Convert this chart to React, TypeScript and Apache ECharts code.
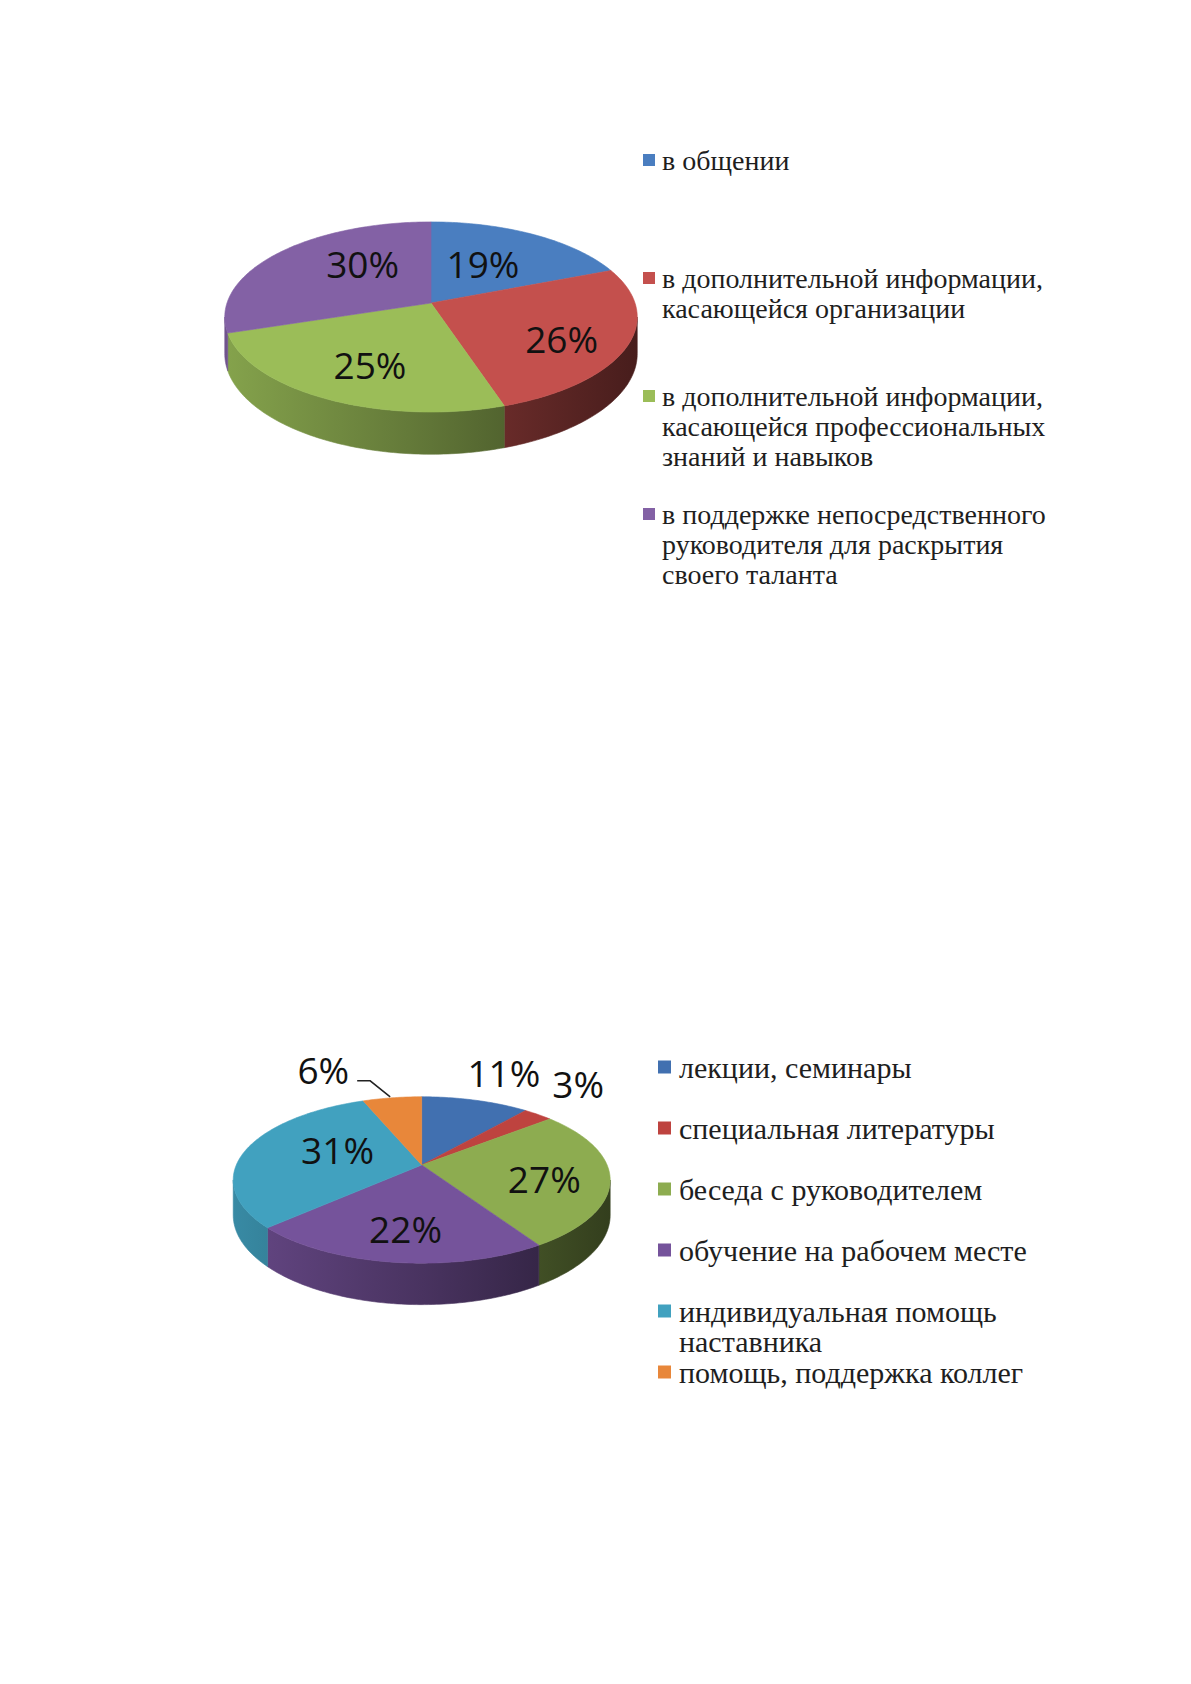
import React, { useEffect, useRef } from "react";
import * as echarts from "echarts";

// ---------- data ----------
const CHART1_CATEGORIES = [
  "в общении",
  "в дополнительной информации,\nкасающейся организации",
  "в дополнительной информации,\nкасающейся профессиональных\nзнаний и навыков",
  "в поддержке непосредственного\nруководителя для раскрытия\nсвоего таланта",
];
const CHART1_VALUES = [19, 26, 25, 30];
const CHART1_COLORS = ["#4A7EC0", "#C4504D", "#9BBD58", "#8361A5"];

const CHART2_CATEGORIES = [
  "лекции, семинары",
  "специальная литературы",
  "беседа с руководителем",
  "обучение на рабочем месте",
  "индивидуальная помощь\nнаставника",
  "помощь, поддержка коллег",
];
const CHART2_VALUES = [11, 3, 27, 22, 31, 6];
const CHART2_COLORS = ["#4170B0", "#BE433F", "#8DAC50", "#75539B", "#41A1BF", "#E8873A"];

// ---------- layout (style, not data) ----------
type Geo = { cx: number; cy: number; s: number; k: number; p: number; h: number };
const GEO1: Geo = { cx: 431, cy: 303, s: 204, k: 93, p: 0.147, h: 36 };
const GEO2: Geo = { cx: 421.7, cy: 1165, s: 185.4, k: 80.5, p: 0.18, h: 34 };

const LEGEND1 = { markerX: 643, size: 12, textX: 662, firstY: 160, gap: 118, font: 28 };
const LEGEND2 = { markerX: 658, size: 13, textX: 679, firstY: 1067, gap: 61, font: 30 };

const LABEL_FONT = 37;
const LABEL_FAMILY = "'Open Sans', sans-serif";

function shade(hex: string, f: number) {
  const n = parseInt(hex.slice(1), 16);
  const r = Math.round(((n >> 16) & 255) * f);
  const g = Math.round(((n >> 8) & 255) * f);
  const b = Math.round((n & 255) * f);
  return `rgb(${r},${g},${b})`;
}

function measure(text: string) {
  const c = document.createElement("canvas").getContext("2d")!;
  c.font = `${LABEL_FONT}px ${LABEL_FAMILY}`;
  return c.measureText(text).width;
}

function makeProj(geo: Geo) {
  return (phiDeg: number, r: number, down: number): [number, number] => {
    const t = (phiDeg * Math.PI) / 180;
    const X = r * Math.cos(t);
    const Z = r * Math.sin(t);
    const w = 1 - geo.p * Z;
    return [geo.cx + (geo.s * X) / w, geo.cy + (geo.k * Z + geo.h * down) / w];
  };
}

function buildPieSeries(values: number[], colors: string[], geo: Geo) {
  const total = values.reduce((a, b) => a + b, 0);
  const starts: number[] = [];
  let acc = 0;
  values.forEach((v) => {
    starts.push(acc);
    acc += v;
  });
  const proj = makeProj(geo);

  // label layout
  type Lab = { text: string; x: number; y: number; align: string; leader?: number[][] };
  const labels: Lab[] = [];
  let prevRight = -Infinity;
  values.forEach((v, i) => {
    const mid = -90 + (360 * (starts[i] + v / 2)) / total;
    const t = (mid * Math.PI) / 180;
    const X = Math.cos(t);
    const Z = Math.sin(t);
    const text = `${v}%`;
    if (v >= 12) {
      const r = 0.5 + 0.12 * Z + 0.14 * Math.max(X, 0);
      const [x, y] = proj(mid, r, 0);
      const dy = 8 * Z - 25 * Math.max(-X, 0) * Math.max(-Z, 0) + 4 * Math.max(X, 0);
      labels.push({ text, x, y: y + dy, align: "center" });
    } else {
      const [rx, ry] = proj(mid, 1, 0);
      if (X >= 0) {
        const wdt = measure(text);
        let x = rx - 8;
        let y = ry - 28;
        if (x < prevRight + 12) {
          x = prevRight + 12;
          y = ry - 31;
        }
        prevRight = x + wdt;
        labels.push({ text, x, y, align: "left" });
      } else {
        const y = ry - 28;
        labels.push({
          text,
          x: rx - 43,
          y,
          align: "right",
          leader: [
            [rx - 35, y + 11],
            [rx - 22, y + 11],
            [rx - 2, ry - 1],
          ],
        });
      }
    }
  });

  const visLo = (Math.asin(geo.p) * 180) / Math.PI;
  const visHi = 180 - visLo;
  const left = geo.cx - geo.s * 1.02;
  const right = geo.cx + geo.s * 1.02;

  return {
    type: "custom",
    coordinateSystem: "none",
    silent: true,
    data: values.map((v, i) => [v, i]),
    renderItem: (params: any, api: any) => {
      const i = params.dataIndex;
      const v = api.value(0);
      const a0 = -90 + (360 * starts[i]) / total;
      const a1 = a0 + (360 * v) / total;
      const color = colors[i];
      const children: any[] = [];

      // top face
      const top: number[][] = [proj(0, 0, 0)];
      const steps = Math.max(2, Math.ceil(a1 - a0));
      for (let s = 0; s <= steps; s++) top.push(proj(a0 + ((a1 - a0) * s) / steps, 1, 0));
      children.push({
        type: "polygon",
        z2: 2,
        shape: { points: top },
        style: { fill: color, stroke: color, lineWidth: 0.6 },
      });

      // visible side wall
      const lo = Math.max(a0, visLo);
      const hi = Math.min(a1, visHi);
      if (hi > lo) {
        const pts: number[][] = [];
        const n = Math.max(2, Math.ceil(hi - lo));
        for (let s = 0; s <= n; s++) pts.push(proj(lo + ((hi - lo) * s) / n, 1, 0));
        for (let s = n; s >= 0; s--) pts.push(proj(lo + ((hi - lo) * s) / n, 1, 1));
        const grad = new echarts.graphic.LinearGradient(
          left,
          0,
          right,
          0,
          [
            { offset: 0, color: shade(color, 0.86) },
            { offset: 0.5, color: shade(color, 0.62) },
            { offset: 1, color: shade(color, 0.36) },
          ],
          true
        );
        children.push({
          type: "polygon",
          z2: 1,
          shape: { points: pts },
          style: { fill: grad, stroke: grad, lineWidth: 0.6 },
        });
      }

      // label
      const lab = labels[i];
      children.push({
        type: "text",
        z2: 5,
        x: lab.x,
        y: lab.y,
        style: {
          text: lab.text,
          fill: "#111",
          fontSize: LABEL_FONT,
          fontFamily: LABEL_FAMILY,
          align: lab.align,
          verticalAlign: "middle",
        },
      });
      if (lab.leader) {
        children.push({
          type: "polyline",
          z2: 5,
          shape: { points: lab.leader },
          style: { stroke: "#222", lineWidth: 1.5, fill: null },
        });
      }
      return { type: "group", children };
    },
  };
}

function buildLegend(names: string[], colors: string[], cfg: typeof LEGEND1) {
  const els: any[] = [];
  names.forEach((name, j) => {
    const y = cfg.firstY + j * cfg.gap;
    els.push({
      type: "rect",
      shape: { x: cfg.markerX, y: y - cfg.size / 2, width: cfg.size, height: cfg.size },
      style: { fill: colors[j] },
    });
    els.push({
      type: "text",
      x: cfg.textX,
      y: y - 15,
      style: {
        text: name,
        fill: "#1e1e1e",
        fontSize: cfg.font,
        fontFamily: "'Liberation Serif', 'Times New Roman', serif",
        lineHeight: 30,
        verticalAlign: "top",
        align: "left",
      },
    });
  });
  return els;
}

export default function App() {
  const ref = useRef<HTMLDivElement>(null);
  useEffect(() => {
    if (!ref.current) return;
    const chart = echarts.init(ref.current, undefined, { renderer: "svg" });
    chart.setOption({
      animation: false,
      backgroundColor: "#ffffff",
      series: [
        buildPieSeries(CHART1_VALUES, CHART1_COLORS, GEO1),
        buildPieSeries(CHART2_VALUES, CHART2_COLORS, GEO2),
      ],
      graphic: [
        ...buildLegend(CHART1_CATEGORIES, CHART1_COLORS, LEGEND1),
        ...buildLegend(CHART2_CATEGORIES, CHART2_COLORS, LEGEND2),
      ],
    });
    return () => chart.dispose();
  }, []);
  return (
    <div
      ref={ref}
      style={{ position: "absolute", left: 0, top: 0, width: 1191, height: 1684, background: "#fff" }}
    />
  );
}
